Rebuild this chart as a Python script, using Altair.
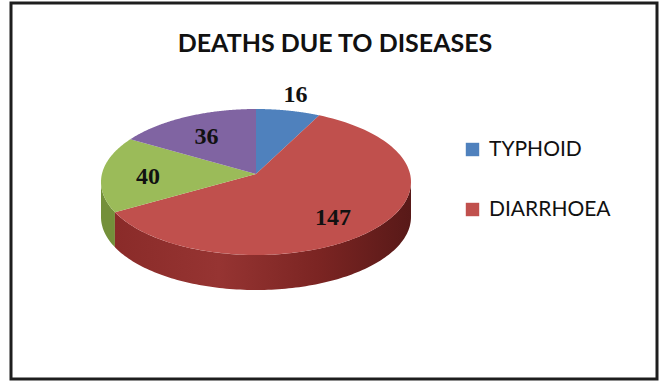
import altair as alt
import pandas as pd

# Slices of the pie (clockwise from 12 o'clock)
categories = ["TYPHOID", "DIARRHOEA", "OTHER 1", "OTHER 2"]
values = [16, 147, 40, 36]
colors = ["#4F81BD", "#C0504D", "#9BBB59", "#8064A2"]
legend_names = ["TYPHOID", "DIARRHOEA"]
title_text = "DEATHS DUE TO DISEASES"

# Geometry / style settings
STEPS = 120                 # points along each rim arc
DEPTH = 0.48                # thickness of the disc, in units of the vertical half-axis
APEX_Y = -0.11              # tilt: the common corner of the slices sits a bit behind the centre
W, H = 666, 381

slices = pd.DataFrame({
    "category": categories,
    "value": values,
    "order": list(range(len(categories))),
})
slices["step"] = [list(range(2 * STEPS + 2)) for _ in categories]

x_scale = alt.Scale(domain=[-1, 1], range=[101, 411])
y_scale = alt.Scale(domain=[-1, 1 + DEPTH], range=[109, 290])
no_axis = None

base = alt.Chart(slices).transform_window(
    cum="sum(value)", sort=[alt.SortField("order")], frame=[None, 0]
).transform_joinaggregate(
    total="sum(value)"
).transform_calculate(
    a0="2*PI*(datum.cum - datum.value)/datum.total",
    a1="2*PI*datum.cum/datum.total",
)

# Top face: one closed sector polygon per slice
top = base.transform_flatten(["step"]).transform_filter(
    f"datum.step <= {STEPS + 2}"
).transform_calculate(
    t=f"clamp((datum.step - 1)/{STEPS}, 0, 1)",
).transform_calculate(
    ang="datum.a0 + (datum.a1 - datum.a0)*datum.t",
    edge=f"(datum.step == 0 || datum.step == {STEPS + 2}) ? 0 : 1",
).transform_calculate(
    px="datum.edge*sin(datum.ang)",
    py=f"datum.edge ? -cos(datum.ang) : {APEX_Y}",
).mark_line(filled=True, strokeWidth=0).encode(
    x=alt.X("px:Q", scale=x_scale, axis=no_axis),
    y=alt.Y("py:Q", scale=y_scale, axis=no_axis),
    order=alt.Order("step:Q"),
    fill=alt.Fill(
        "category:N",
        scale=alt.Scale(domain=categories, range=colors),
        legend=alt.Legend(
            values=legend_names, title=None, orient="none",
            legendX=462, legendY=139,
            symbolType="square", symbolSize=180, symbolStrokeWidth=0,
            labelFont="Lato", labelFontSize=21, labelColor="#111111",
            labelOffset=6, rowPadding=38,
        ),
    ),
)

# Front wall of the disc: the part of each slice facing the viewer,
# traced along the top rim and back along the bottom rim
side_base = base.transform_calculate(
    f0="max(datum.a0, PI/2)",
    f1="min(datum.a1, 3*PI/2)",
).transform_filter("datum.f0 < datum.f1").transform_flatten(["step"]).transform_calculate(
    u=f"datum.step <= {STEPS} ? datum.step/{STEPS} : ({2 * STEPS + 1} - datum.step)/{STEPS}",
    low=f"datum.step > {STEPS} ? 1 : 0",
).transform_calculate(
    ang="datum.f0 + (datum.f1 - datum.f0)*datum.u",
).transform_calculate(
    sx="sin(datum.ang)",
    sy=f"-cos(datum.ang) + datum.low*{DEPTH}",
)

side_enc = dict(
    x=alt.X("sx:Q", scale=x_scale, axis=no_axis),
    y=alt.Y("sy:Q", scale=y_scale, axis=no_axis),
    order=alt.Order("step:Q"),
)

side_red = side_base.transform_filter(
    alt.datum.category == categories[1]
).mark_line(
    filled=True, strokeWidth=0,
    fill=alt.Gradient(
        gradient="linear", x1=0, x2=1, y1=0, y2=0,
        stops=[
            alt.GradientStop(offset=0, color="#8A2B29"),
            alt.GradientStop(offset=0.35, color="#963432"),
            alt.GradientStop(offset=0.7, color="#7A2422"),
            alt.GradientStop(offset=1, color="#581918"),
        ],
    ),
).encode(**side_enc)

side_green = side_base.transform_filter(
    alt.datum.category == categories[2]
).mark_line(filled=True, strokeWidth=0, fill="#74903A").encode(**side_enc)

# Value labels: inside the slice, or just outside for a thin slice
labels = base.transform_calculate(
    mid="(datum.a0 + datum.a1)/2",
    r="datum.value/datum.total < 0.1 ? 1.22 : 0.7",
).transform_calculate(
    lx="datum.r*sin(datum.mid)",
    ly="-datum.r*cos(datum.mid)",
).mark_text(
    font="Liberation Serif", fontWeight="bold", fontSize=24,
    color="#111111", baseline="middle", align="center",
).encode(
    x=alt.X("lx:Q", scale=x_scale, axis=no_axis),
    y=alt.Y("ly:Q", scale=y_scale, axis=no_axis),
    text="value:Q",
)

one = pd.DataFrame({"k": [0]})

title = alt.Chart(one).mark_text(
    text=title_text, font="Lato", fontWeight="bold", fontSize=25,
    color="#111111", align="center", baseline="middle",
).encode(x=alt.value(335), y=alt.value(44))

frame = alt.Chart(one).mark_rect(
    filled=False, stroke="#1E1E1E", strokeWidth=3,
).encode(x=alt.value(11), x2=alt.value(657), y=alt.value(3), y2=alt.value(379))

chart = alt.layer(side_green, side_red, top, labels, title, frame).properties(
    width=W, height=H, padding=0, autosize=alt.AutoSizeParams(type="none"),
    background="white",
).configure_view(stroke=None)

chart.save("out.html", embed_options={"renderer": "svg", "actions": False})
